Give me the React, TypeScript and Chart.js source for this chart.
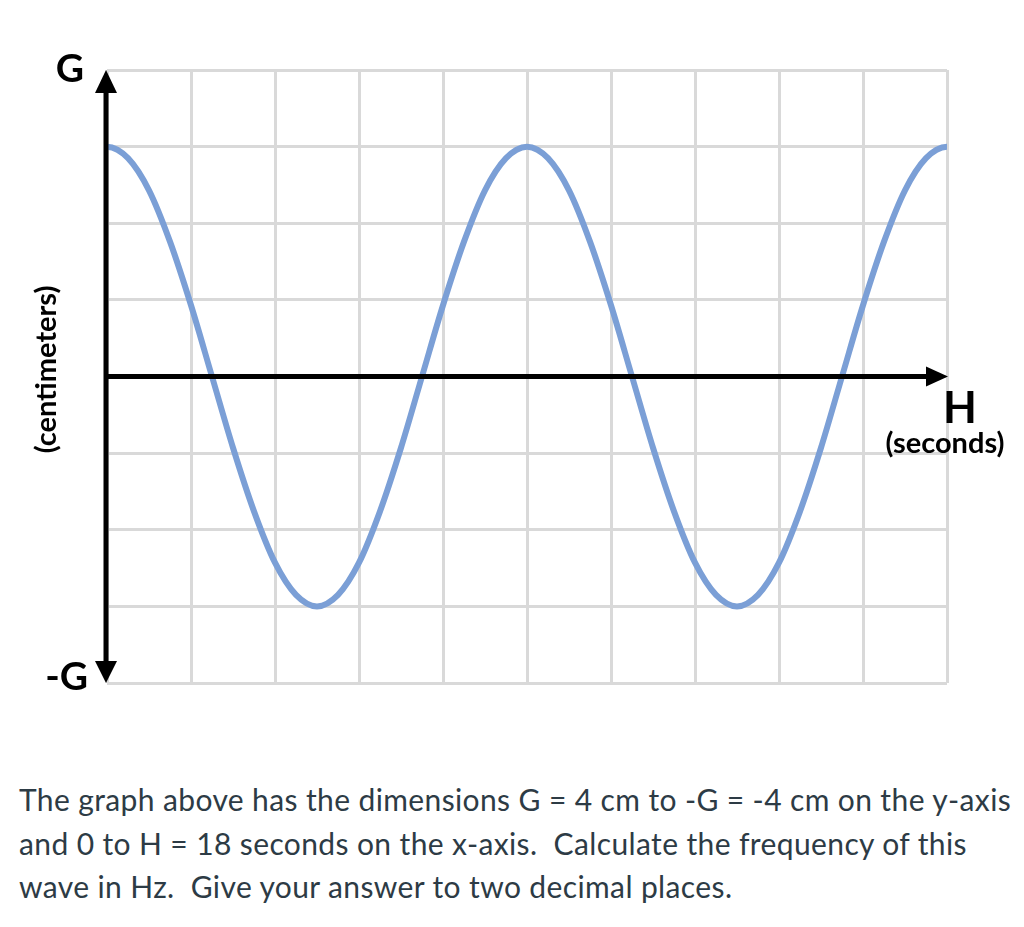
import React, { useEffect, useRef } from "react";
import { Chart, registerables } from "chart.js";

Chart.register(...registerables);

// time in grid units (0 .. 10 units = 0 .. H); the points just outside the frame are clipped
const timeUnits = [
  -0.25, 0, 0.25, 0.5, 0.75, 1, 1.25, 1.5, 1.75, 2, 2.25, 2.5, 2.75, 3, 3.25, 3.5, 3.75, 4, 4.25, 4.5, 4.75,
  5, 5.25, 5.5, 5.75, 6, 6.25, 6.5, 6.75, 7, 7.25, 7.5, 7.75, 8, 8.25, 8.5, 8.75, 9, 9.25, 9.5, 9.75, 10, 10.25,
];
// displacement in grid units (-4 .. 4 = -G .. G)
const displacement = [
  2.85,
  3, 2.85, 2.43, 1.76, 0.93, 0, -0.93, -1.76, -2.43, -2.85, -3, -2.85, -2.43, -1.76, -0.93, 0, 0.93, 1.76, 2.43, 2.85,
  3, 2.85, 2.43, 1.76, 0.93, 0, -0.93, -1.76, -2.43, -2.85, -3, -2.85, -2.43, -1.76, -0.93, 0, 0.93, 1.76, 2.43, 2.85,
  3, 2.85,
];
const xRange = [0, 10];
const yRange = [-4, 4];
const yTopLabel = "G";
const yBottomLabel = "-G";
const yUnitLabel = "(centimeters)";
const xLabel = "H";
const xUnitLabel = "(seconds)";
const questionLines = [
  "The graph above has the dimensions G = 4 cm to -G = -4 cm on the y-axis",
  "and 0 to H = 18 seconds on the x-axis.  Calculate the frequency of this",
  "wave in Hz.  Give your answer to two decimal places.",
];

const axesPlugin = {
  id: "axesArrows",
  afterDatasetsDraw(chart: any) {
    const { ctx, scales } = chart;
    const xs = scales.x;
    const ys = scales.y;
    const x0 = xs.getPixelForValue(0) - 1;
    const y0 = ys.getPixelForValue(0);
    const top = ys.getPixelForValue(yRange[1]);
    const bottom = ys.getPixelForValue(yRange[0]);
    const right = xs.getPixelForValue(xRange[1]) + 1;
    ctx.save();
    ctx.strokeStyle = "#000";
    ctx.fillStyle = "#000";
    ctx.lineWidth = 5;
    ctx.beginPath();
    ctx.moveTo(x0, top + 20);
    ctx.lineTo(x0, bottom - 20);
    ctx.stroke();
    ctx.beginPath();
    ctx.moveTo(x0, y0);
    ctx.lineTo(right - 20, y0);
    ctx.stroke();
    // arrow heads
    ctx.beginPath();
    ctx.moveTo(x0, top);
    ctx.lineTo(x0 - 11, top + 23);
    ctx.lineTo(x0 + 11, top + 23);
    ctx.closePath();
    ctx.fill();
    ctx.beginPath();
    ctx.moveTo(x0, bottom);
    ctx.lineTo(x0 - 11, bottom - 22);
    ctx.lineTo(x0 + 11, bottom - 22);
    ctx.closePath();
    ctx.fill();
    ctx.beginPath();
    ctx.moveTo(right, y0);
    ctx.lineTo(right - 22, y0 - 10);
    ctx.lineTo(right - 22, y0 + 10);
    ctx.closePath();
    ctx.fill();

    ctx.fillStyle = "#000";
    ctx.textBaseline = "alphabetic";
    ctx.font = "bold 39px Lato";
    ctx.textAlign = "right";
    ctx.fillText(yTopLabel, x0 - 22, top + 12);
    ctx.fillText(yBottomLabel, x0 - 18, bottom + 7);
    ctx.font = "bold 44px Lato";
    ctx.textAlign = "center";
    ctx.fillText(xLabel, right + 12, y0 + 46);
    ctx.font = "bold 29px Lato";
    ctx.fillText(xUnitLabel, right - 3, y0 + 76);
    ctx.save();
    ctx.translate(56, (top + bottom) / 2 - 7);
    ctx.rotate(-Math.PI / 2);
    ctx.fillText(yUnitLabel, 0, 0);
    ctx.restore();
    ctx.restore();
  },
};

export default function App() {
  const ref = useRef<HTMLCanvasElement | null>(null);
  useEffect(() => {
    if (!ref.current) return;
    const points = timeUnits.map((t, i) => ({ x: t, y: displacement[i] }));
    const gridOpts = { color: "#d9d9d9", lineWidth: 3, drawTicks: false };
    const chart = new Chart(ref.current, {
      type: "line",
      data: {
        datasets: [
          {
            data: points,
            borderColor: "#7b9fd6",
            borderWidth: 6,
            pointRadius: 0,
            cubicInterpolationMode: "monotone",
            fill: false,
            clip: 0,
          },
        ],
      },
      options: {
        responsive: false,
        animation: false,
        devicePixelRatio: 1,
        layout: { padding: { left: 107, right: 77, top: 70, bottom: 77 } },
        plugins: { legend: { display: false }, tooltip: { enabled: false } },
        scales: {
          x: {
            type: "linear",
            min: xRange[0],
            max: xRange[1],
            ticks: { display: false, stepSize: 1 },
            grid: gridOpts,
            border: { display: false },
          },
          y: {
            type: "linear",
            min: yRange[0],
            max: yRange[1],
            ticks: { display: false, stepSize: 1 },
            grid: gridOpts,
            border: { display: false },
          },
        },
      },
      plugins: [axesPlugin],
    } as any);
    return () => chart.destroy();
  }, []);
  return (
    <div style={{ position: "fixed", left: 0, top: 0, width: 1024, height: 927, background: "#fff" }}>
      <canvas ref={ref} width={1024} height={760} style={{ position: "absolute", left: 0, top: 0 }} />
      <div
        style={{
          position: "absolute",
          left: 19,
          top: 778,
          fontFamily: "Lato",
          fontSize: 30,
          letterSpacing: "0.38px",
          lineHeight: "43.5px",
          color: "#2d3b45",
          whiteSpace: "pre",
        }}
      >
        {questionLines.map((l, i) => (
          <div key={i}>{l}</div>
        ))}
      </div>
    </div>
  );
}
